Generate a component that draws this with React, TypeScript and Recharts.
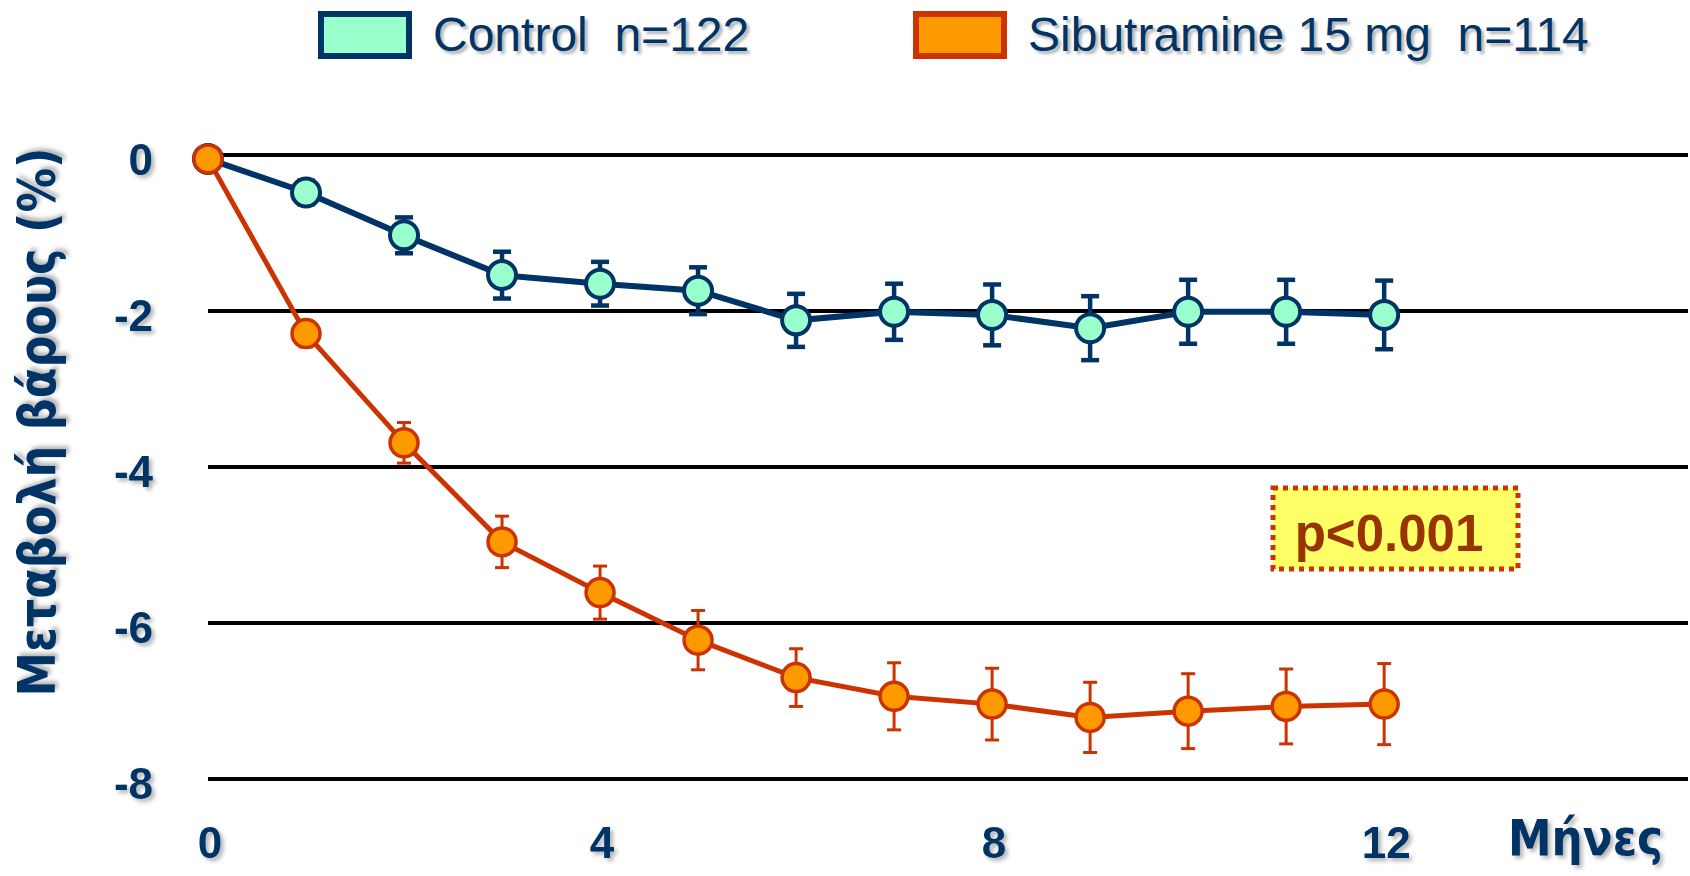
import { LineChart, Line, XAxis, YAxis, CartesianGrid, ErrorBar } from 'recharts';

const months = [0, 1, 2, 3, 4, 5, 6, 7, 8, 9, 10, 11, 12];
const controlChange = [-0.05, -0.48, -1.03, -1.54, -1.65, -1.74, -2.12, -2.01, -2.05, -2.22, -2.01, -2.01, -2.05];
const controlErr = [0, 0.15, 0.23, 0.3, 0.28, 0.3, 0.34, 0.36, 0.39, 0.41, 0.41, 0.41, 0.44];
const sibChange = [-0.05, -2.29, -3.69, -4.96, -5.61, -6.22, -6.7, -6.94, -7.04, -7.21, -7.13, -7.07, -7.04];
const sibErr = [0, 0.17, 0.26, 0.33, 0.34, 0.38, 0.37, 0.43, 0.46, 0.45, 0.48, 0.48, 0.52];
const yTicks = [0, -2, -4, -6, -8];
const xTicks = [0, 4, 8, 12];

const NAVY = '#003366';
const MINT = '#99FFCC';
const ORANGE = '#FF9900';
const RUST = '#CC3300';
const shadow = 'drop-shadow(3px 3px 2px rgba(0,0,0,0.3))';

const data = months.map((m, i) => ({
  month: m,
  control: controlChange[i],
  controlErr: controlErr[i],
  sib: sibChange[i],
  sibErr: sibErr[i],
}));

const tickFont = { fontFamily: '"Liberation Sans", Arial, sans-serif', fontWeight: 700, fontSize: 44, fill: NAVY };

function YTick(props: any) {
  return (
    <text x={153} y={props.y + 20} textAnchor="end" style={{ ...tickFont, filter: shadow }}>
      {props.payload.value}
    </text>
  );
}

function XTick(props: any) {
  return (
    <text x={props.x + 2} y={858} textAnchor="middle" style={{ ...tickFont, filter: shadow }}>
      {props.payload.value}
    </text>
  );
}

function LegendItem({ x, fill, stroke, label }: { x: number; fill: string; stroke: string; label: string }) {
  return (
    <div style={{ position: 'absolute', left: x, top: 11, display: 'flex', alignItems: 'center' }}>
      <div style={{ width: 82, height: 36, background: fill, border: `6px solid ${stroke}` }} />
      <span
        style={{
          marginLeft: 21,
          fontFamily: '"Liberation Sans", Arial, sans-serif',
          fontSize: 48,
          color: NAVY,
          whiteSpace: 'pre',
          textShadow: '3px 3px 3px rgba(0,0,0,0.3)',
          lineHeight: '48px',
        }}
      >
        {label}
      </span>
    </div>
  );
}

export default function App() {
  return (
    <div style={{ position: 'absolute', left: 0, top: 0, width: 1690, height: 876, background: '#fff' }}>
      <LineChart width={1690} height={876} data={data} margin={{ top: 155, right: 2, bottom: 0, left: 0 }}>
        <CartesianGrid vertical={false} stroke="#000" strokeWidth={4} />
        <XAxis
          dataKey="month"
          type="number"
          domain={[0, 15.1]}
          ticks={xTicks}
          axisLine={false}
          tickLine={false}
          height={97}
          tick={<XTick />}
        />
        <YAxis
          type="number"
          domain={[-8, 0]}
          ticks={yTicks}
          axisLine={false}
          tickLine={false}
          width={208}
          tick={<YTick />}
        />
        <Line
          dataKey="control"
          stroke={NAVY}
          strokeWidth={6}
          dot={{ r: 14, fill: MINT, stroke: NAVY, strokeWidth: 4 }}
          isAnimationActive={false}
        >
          <ErrorBar dataKey="controlErr" direction="y" width={9} stroke={NAVY} strokeWidth={4.5} isAnimationActive={false} />
        </Line>
        <Line
          dataKey="sib"
          stroke={RUST}
          strokeWidth={5}
          dot={{ r: 14, fill: ORANGE, stroke: RUST, strokeWidth: 3.5 }}
          isAnimationActive={false}
        >
          <ErrorBar dataKey="sibErr" direction="y" width={7} stroke={RUST} strokeWidth={3} isAnimationActive={false} />
        </Line>
      </LineChart>

      <LegendItem x={318} fill={MINT} stroke={NAVY} label="Control  n=122" />
      <LegendItem x={913} fill={ORANGE} stroke={RUST} label="Sibutramine 15 mg  n=114" />

      <svg width={1690} height={876} style={{ position: 'absolute', left: 0, top: 0, pointerEvents: 'none' }}>
        <text
          x={55}
          y={422}
          transform="rotate(-90 55 422)"
          textAnchor="middle"
          textLength={549}
          lengthAdjust="spacingAndGlyphs"
          style={{ fontFamily: '"DejaVu Sans", Verdana, sans-serif', fontWeight: 700, fontSize: 52, fill: NAVY, filter: shadow }}
        >
          Μεταβολή βάρους (%)
        </text>
        <text
          x={1508}
          y={855}
          textLength={155}
          lengthAdjust="spacingAndGlyphs"
          style={{ fontFamily: '"DejaVu Sans", Verdana, sans-serif', fontWeight: 700, fontSize: 50, fill: NAVY, filter: shadow }}
        >
          Μήνες
        </text>
        <rect x={1273} y={488} width={245} height={81} fill="#FFFF66" stroke={RUST} strokeWidth={5} strokeDasharray="5 5" />
        <text
          x={1389}
          y={551}
          textAnchor="middle"
          style={{ fontFamily: '"Liberation Sans", Arial, sans-serif', fontWeight: 700, fontSize: 51, fill: '#993300' }}
        >
          p&lt;0.001
        </text>
      </svg>
    </div>
  );
}
